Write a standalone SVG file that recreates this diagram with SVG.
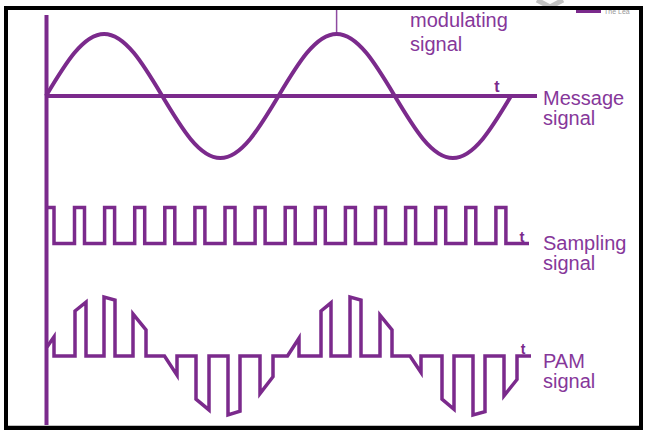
<svg xmlns="http://www.w3.org/2000/svg" width="650" height="430" viewBox="0 0 650 430">
  <style>
    .wave { fill: none; stroke: #7b2a8c; stroke-linejoin: miter; stroke-linecap: butt; }
    .lbl { font-family: "Liberation Sans", Arial, sans-serif; font-size: 20px; fill: #86379a; }
    .t { font-family: "Liberation Sans", Arial, sans-serif; font-weight: bold; fill: #7b2a8c; text-anchor: middle; }
  </style>
  <rect x="0" y="0" width="650" height="430" fill="#ffffff"/>
  <g id="watermark">
    <polyline points="537,0 550,7 563,0" fill="none" stroke="#c4c4c4" stroke-width="5"/>
    <rect x="576" y="9" width="25" height="4" fill="#7b2a8c"/>
    <text x="604" y="14" font-family="Liberation Sans, Arial, sans-serif" font-size="7" fill="#9a9a9a">The Lea</text>
  </g>
  <g id="frame">
    <line x1="8" y1="425.5" x2="639" y2="425.5" stroke="#c0c0c0" stroke-width="1"/>
    <rect x="6" y="8" width="635" height="420" fill="none" stroke="#000000" stroke-width="4"/>
  </g>
  <g id="axes">
    <line x1="46.5" y1="15" x2="46.5" y2="425" stroke="#7b2a8c" stroke-width="4"/>
    <line x1="45" y1="96" x2="537" y2="96" stroke="#7b2a8c" stroke-width="4"/>
    <line x1="336.6" y1="10" x2="336.6" y2="33" stroke="#8e4aa0" stroke-width="1.5"/>
  </g>
  <g id="message-signal">
    <path class="wave" stroke-width="4" d="M46,96 C64.956,64.24 83.089,34 104.125,34 C125.161,34 143.294,64.24 162.25,96 C181.206,127.76 199.339,158 220.375,158 C241.411,158 259.544,127.76 278.5,96 C297.456,64.24 315.589,34 336.625,34 C357.661,34 375.794,64.24 394.75,96 C413.706,127.76 431.839,158 452.875,158 C473.911,158 492.044,127.76 511,96"/>
    <text class="t" x="497" y="92" font-size="16">t</text>
    <text class="lbl" x="543" y="105">Message</text>
    <text class="lbl" x="543" y="125">signal</text>
    <text class="lbl" x="410" y="27">modulating</text>
    <text class="lbl" x="410" y="51">signal</text>
  </g>
  <g id="sampling-signal">
    <path class="wave" stroke-width="3.5" d="M47,207.5 H54 V243.5 H74.5 V207.5 H84.5 V243.5 H104.6 V207.5 H114.6 V243.5 H134.7 V207.5 H144.7 V243.5 H164.8 V207.5 H174.8 V243.5 H194.9 V207.5 H204.9 V243.5 H225 V207.5 H235 V243.5 H255.1 V207.5 H265.1 V243.5 H285.2 V207.5 H295.2 V243.5 H315.3 V207.5 H325.3 V243.5 H345.4 V207.5 H355.4 V243.5 H375.5 V207.5 H385.5 V243.5 H405.6 V207.5 H415.6 V243.5 H435.7 V207.5 H445.7 V243.5 H465.8 V207.5 H475.8 V243.5 H495.9 V207.5 H505.9 V243.5 H529"/>
    <text class="t" x="522" y="242" font-size="15">t</text>
    <text class="lbl" x="543" y="250">Sampling</text>
    <text class="lbl" x="543" y="270">signal</text>
  </g>
  <g id="pam-signal">
    <path class="wave" stroke-width="3.5" d="M47,347 L54,336.8 V356 H75 V311 L86,302.2 V356 H104 V297 L115,300 V356 H133 V314 L146,329.9 V356 H164.5 L177,375.2 V356 H196 V399.1 L209,409.9 V356 H228 V414.9 L240,411.1 V356 H260 V393.6 L273,376.7 V356 H287.5 L299,338.2 V356 H321 V311 L331,302.8 V356 H350 V297 L361,300 V356 H380 V315.1 L392,329.9 V356 H410 L421,372.4 V356 H442 V399.1 L454,409.3 V356 H473 V415 L485,411.6 V356 H504 V395.8 L517,379.5 V356 H531"/>
    <text class="t" x="523" y="354" font-size="14">t</text>
    <text class="lbl" x="543" y="368">PAM</text>
    <text class="lbl" x="543" y="388">signal</text>
  </g>
</svg>
